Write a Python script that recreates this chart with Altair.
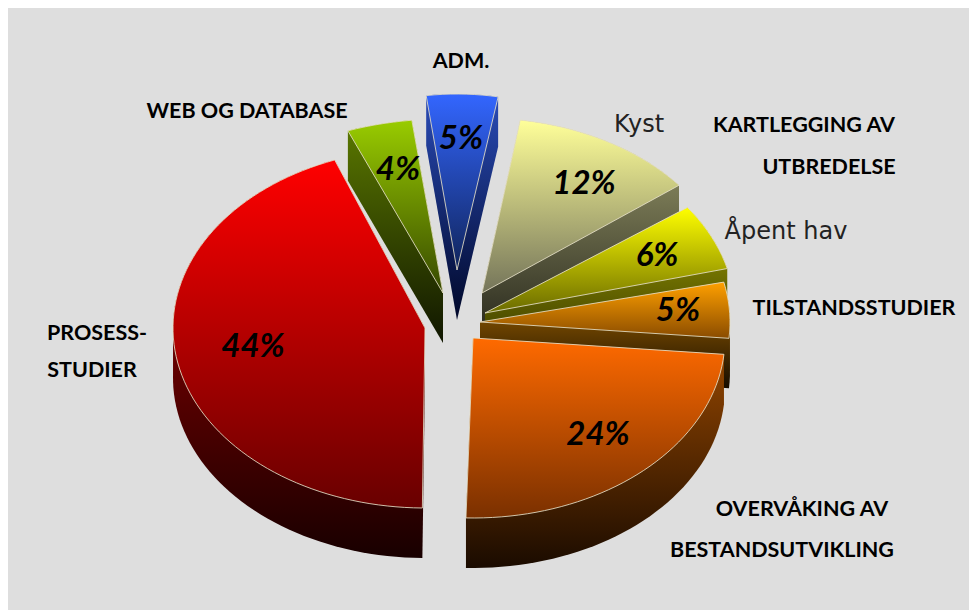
import math
import altair as alt

# ---- data ----
names = ["WEB OG DATABASE", "ADM.", "Kyst", "Åpent hav", "TILSTANDSSTUDIER", "OVERVÅKING AV BESTANDSUTVIKLING", "PROSESS-STUDIER"]
values = [4, 5, 12, 6, 5, 24, 44]

# ---- layout (image pixels) ----
centers = [(443, 293), (457, 270), (482, 293), (485, 313), (480, 322), (473, 338), (425, 328)]
radii = [(263, 174), (230, 176), (250, 175), (250, 180), (250, 180), (252, 180), (252, 180)]
starts = [-96.8, -79.7, -38, -14.3, 5.2, 91.6, -111]
DEPTH = 50
top_colors = [("#99cc00", "#364800"), ("#3366ff", "#10245a"), ("#ffff99", "#74745a"), ("#ffff00", "#6a6a00"),
              ("#ffa000", "#8a4c00"), ("#ff6a00", "#7a3000"), ("#ff0000", "#680000")]
side_colors = [("#5c7a00", "#101600"), ("#2a4cb8", "#000728"), ("#a0a070", "#24241a"), ("#a0a000", "#303000"),
               ("#a86800", "#150c00"), ("#9c4a00", "#1a0b00"), ("#b00000", "#180000")]
pct_pos = [(398, 170), (461, 139), (584, 184), (657, 256), (678, 311), (598, 435), (253, 347)]
OFF = 8


def wedge(c, r, start, value):
    pts = [(c[0], c[1])]
    n = max(6, int(value * 3.6 / 2))
    for i in range(n + 1):
        t = math.radians(start - value * 3.6 * i / n)
        pts.append((c[0] + r[0] * math.cos(t), c[1] + r[1] * math.sin(t)))
    return pts


def hull(points):
    pts = sorted(set(points))
    def cross(o, a, b):
        return (a[0] - o[0]) * (b[1] - o[1]) - (a[1] - o[1]) * (b[0] - o[0])
    lo, up = [], []
    for p in pts:
        while len(lo) >= 2 and cross(lo[-2], lo[-1], p) <= 0:
            lo.pop()
        lo.append(p)
    for p in reversed(pts):
        while len(up) >= 2 and cross(up[-2], up[-1], p) <= 0:
            up.pop()
        up.append(p)
    return lo[:-1] + up[:-1]


def feature(pts):
    ring = [[x - OFF, y - OFF] for x, y in pts]
    ring.append(ring[0])
    return {"type": "Feature", "properties": {}, "geometry": {"type": "Polygon", "coordinates": [ring]}}


def grad(c):
    return alt.Gradient(gradient="linear", x1=0, y1=0, x2=0, y2=1,
                        stops=[alt.GradientStop(color=c[0], offset=0), alt.GradientStop(color=c[1], offset=1)])


proj = alt.Projection(type="identity", scale=1, translate=[0, 0])
layers = []
for c, r, s, v, tc, sc in zip(centers, radii, starts, values, top_colors, side_colors):
    w = wedge(c, r, s, v)
    side = hull(w + [(x, y + DEPTH) for x, y in w])
    layers.append(alt.Chart(alt.Data(values=[feature(side)])).mark_geoshape(fill=grad(sc), stroke=None, strokeWidth=0).project(**proj.to_dict()))
    layers.append(alt.Chart(alt.Data(values=[feature(w)])).mark_geoshape(fill=grad(tc), stroke="#e6e0c8", strokeWidth=1, strokeOpacity=0.85).project(**proj.to_dict()))

pct_rows = [{"t": f"{v}%", "lon": p[0] - OFF, "lat": p[1] - OFF} for v, p in zip(values, pct_pos)]
layers.append(alt.Chart(alt.Data(values=pct_rows)).mark_text(
    font="Lato", fontSize=33, fontWeight="bold", fontStyle="italic", color="#000000"
).encode(longitude="lon:Q", latitude="lat:Q", text="t:N").project(**proj.to_dict()))

cap_labels = [("ADM.", 461, 62), ("WEB OG DATABASE", 247, 112), ("KARTLEGGING AV", 804, 126), ("UTBREDELSE", 829, 168),
              ("TILSTANDSSTUDIER", 854, 309), ("PROSESS-", 97, 334), ("STUDIER", 92, 371),
              ("OVERVÅKING AV", 802, 510), ("BESTANDSUTVIKLING", 782, 551)]
cap_rows = [{"t": t, "lon": x - OFF, "lat": y - OFF} for t, x, y in cap_labels]
layers.append(alt.Chart(alt.Data(values=cap_rows)).mark_text(
    font="Lato", fontSize=21.5, fontWeight="bold", color="#000000"
).encode(longitude="lon:Q", latitude="lat:Q", text="t:N").project(**proj.to_dict()))

thin_labels = [("Kyst", 639, 125), ("Åpent hav", 786, 232)]
thin_rows = [{"t": t, "lon": x - OFF, "lat": y - OFF} for t, x, y in thin_labels]
layers.append(alt.Chart(alt.Data(values=thin_rows)).mark_text(
    font="DejaVu Sans", fontSize=24, color="#222222"
).encode(longitude="lon:Q", latitude="lat:Q", text="t:N").project(**proj.to_dict()))

chart = alt.layer(*layers).properties(
    width=961, height=602, padding=0, background="#dedede"
).configure_view(stroke=None)

chart.save("out.html", embed_options={"renderer": "svg", "actions": False})
